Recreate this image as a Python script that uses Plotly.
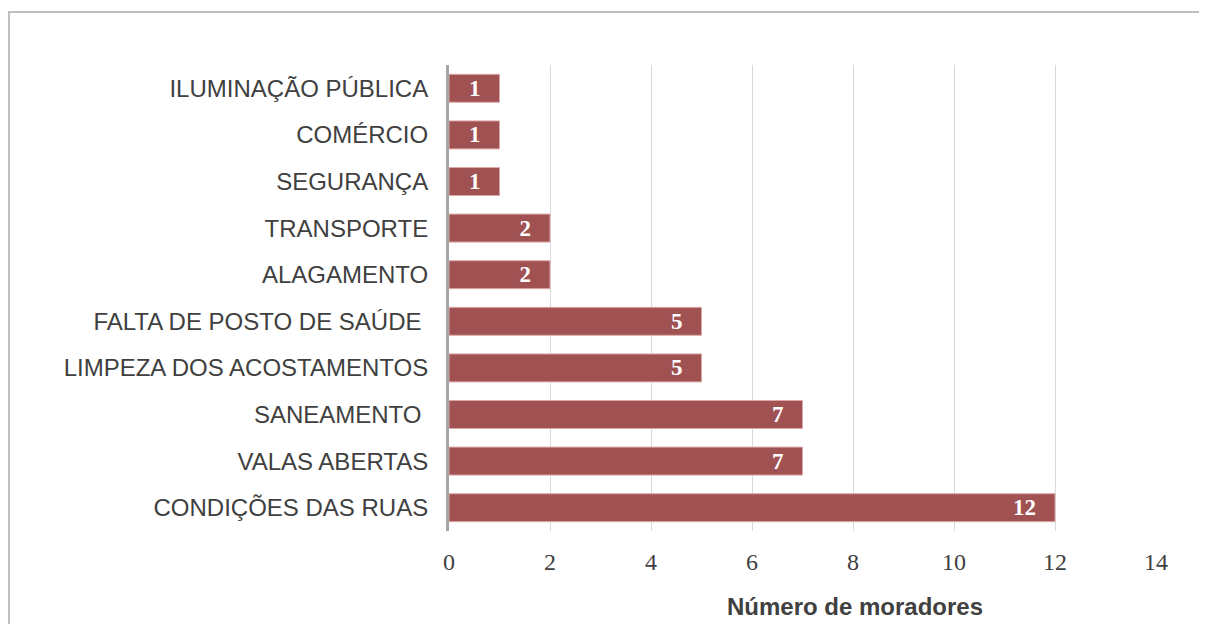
import plotly.graph_objects as go

categories = ["CONDIÇÕES DAS RUAS", "VALAS ABERTAS", "SANEAMENTO ", "LIMPEZA DOS ACOSTAMENTOS",
              "FALTA DE POSTO DE SAÚDE ", "ALAGAMENTO", "TRANSPORTE", "SEGURANÇA", "COMÉRCIO",
              "ILUMINAÇÃO PÚBLICA"]
values = [12, 7, 7, 5, 5, 2, 2, 1, 1, 1]
x_ticks = [0, 2, 4, 6, 8, 10, 12, 14]
x_title = "Número de moradores"

# figure is drawn inside the page's 8px body margin
L, R, T, B = 441, 51, 57, 93
W, H = 1199, 616
PW, PH = W - L - R, H - T - B

fig = go.Figure(go.Bar(
    x=values, y=categories, orientation="h", width=0.6,
    marker=dict(color="#A05151", line=dict(color="#DDA8A8", width=1)),
    text=[str(v) + "\u2002\u2009" for v in values], textposition="inside", insidetextanchor="end",
    textfont=dict(family="Liberation Serif", size=23, color="white", weight="bold"),
    textangle=0, cliponaxis=False,
))

fig.update_layout(
    width=W, height=H, paper_bgcolor="white", plot_bgcolor="white",
    margin=dict(l=L, r=R, t=T, b=B), showlegend=False,
    uniformtext=dict(minsize=23, mode="show"),
    xaxis=dict(range=[0, 14], tickvals=x_ticks, showgrid=True, gridcolor="#D9D9D9", gridwidth=1,
               zeroline=False, showline=False, ticks="", ticklabelstandoff=14,
               tickfont=dict(family="Liberation Serif", size=24, color="#404040")),
    yaxis=dict(showline=True, linecolor="#A6A6A6", linewidth=3, ticks="", showgrid=False,
               ticklabelstandoff=13,
               tickfont=dict(family="Liberation Sans", size=24, color="#404040")),
    annotations=[dict(text="<b>" + x_title + "</b>", xref="paper", yref="paper",
                      x=(847 - L) / PW, y=(PH + T - 598) / PH, showarrow=False,
                      xanchor="center", yanchor="middle",
                      font=dict(family="Liberation Sans", size=24, color="#404040"))],
    shapes=[dict(type="rect", xref="paper", yref="paper",
                 x0=(1 - L) / PW, x1=1.2, y0=-0.4, y1=(PH + T - 4) / PH,
                 line=dict(color="#BFBFBF", width=2), layer="below")],
    bargap=0.4,
)

fig.write_html("out.html")
